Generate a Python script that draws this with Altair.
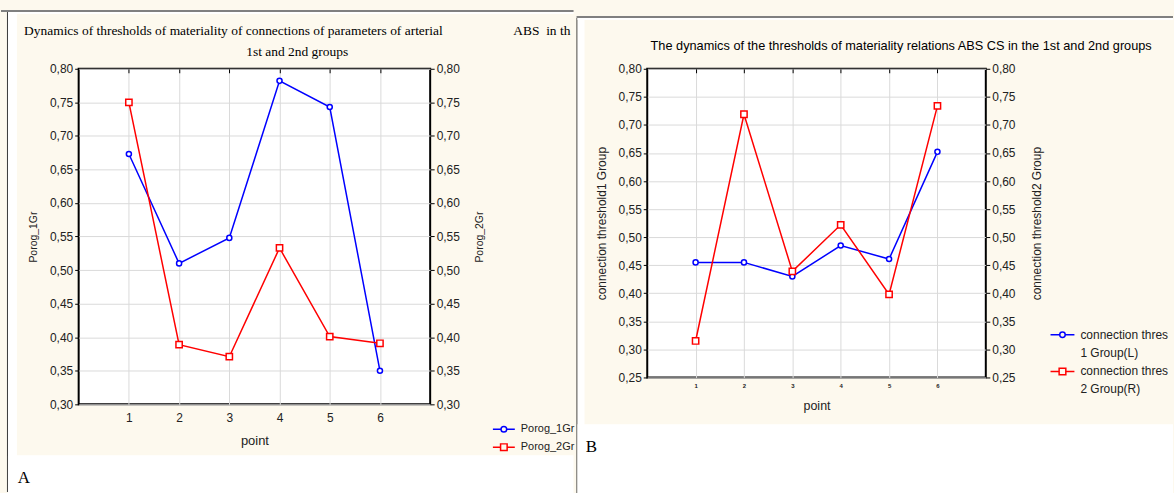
import altair as alt
import pandas as pd

# ---------------- data ----------------
points = [1, 2, 3, 4, 5, 6]

a_series = ["Porog_1Gr", "Porog_2Gr"]
a_group1 = [0.673, 0.510, 0.548, 0.782, 0.743, 0.350]
a_group2 = [0.750, 0.389, 0.371, 0.533, 0.401, 0.391]
a_ticks = [0.30, 0.35, 0.40, 0.45, 0.50, 0.55, 0.60, 0.65, 0.70, 0.75, 0.80]
a_title = [
    "Dynamics of thresholds of materiality of connections of parameters of arterial"
    + "\u00a0" * 21 + "ABS\u00a0\u00a0in\u00a0th",
    "1st and 2nd groups",
]
a_left_title = "Porog_1Gr"
a_right_title = "Porog_2Gr"

b_series = ["connection threshold 1 Group(L)", "connection threshold 2 Group(R)"]
b_legend_lines = [["connection thres", "1 Group(L)"], ["connection thres", "2 Group(R)"]]
b_group1 = [0.455, 0.455, 0.430, 0.485, 0.461, 0.652]
b_group2 = [0.315, 0.719, 0.439, 0.522, 0.398, 0.734]
b_ticks = [0.25, 0.30, 0.35, 0.40, 0.45, 0.50, 0.55, 0.60, 0.65, 0.70, 0.75, 0.80]
b_title = "The dynamics of the thresholds of materiality relations ABS CS in the 1st and 2nd groups"
b_left_title = "connection threshold1 Group"
b_right_title = "connection threshold2 Group"

x_title = "point"
panel_letters = ["A", "B"]

# ---------------- style ----------------
BLUE = "#0000ff"
RED = "#ff0000"
BEIGE = "#fdf9ee"
GRID = "#dadada"
SANS = "Liberation Sans"
SERIF = "Liberation Serif"
LABEL_EXPR = "replace(format(datum.value, '.2f'), '.', ',')"

one = pd.DataFrame({"k": [0]})


def rect(x1, y1, x2, y2, color, ox, oy):
    return alt.Chart(one).mark_rect(color=color).encode(
        x=alt.value(x1 - ox), x2=alt.value(x2 - ox),
        y=alt.value(y1 - oy), y2=alt.value(y2 - oy))


def letter(t, x, y, ox, oy):
    return alt.Chart(one).mark_text(
        text=t, font=SERIF, fontSize=17, color="black",
        align="center", baseline="middle").encode(
        x=alt.value(x - ox), y=alt.value(y - oy))


def sym_paths(r_c, r_s, dy):
    c = (f"M-1,{dy}L{-r_c},{dy}M{r_c},{dy}L1,{dy}"
         f"M{-r_c},{dy}A{r_c},{r_c},0,1,1,{r_c},{dy}A{r_c},{r_c},0,1,1,{-r_c},{dy}Z")
    s = (f"M-1,{dy}L{-r_s},{dy}M{r_s},{dy}L1,{dy}"
         f"M{-r_s},{dy - r_s}L{r_s},{dy - r_s}L{r_s},{dy + r_s}L{-r_s},{dy + r_s}Z")
    return [c, s]


def panel(cfg):
    ox, oy, W, H = cfg["ox"], cfg["oy"], cfg["W"], cfg["H"]
    series = cfg["series"]
    df1 = pd.DataFrame({"point": points, "value": cfg["g1"], "series": series[0]})
    df2 = pd.DataFrame({"point": points, "value": cfg["g2"], "series": series[1]})
    dfall = pd.concat([df1, df2], ignore_index=True)

    xscale = alt.Scale(domain=[0, 7], nice=False, zero=False)
    yscale = alt.Scale(domain=[cfg["ticks"][0], cfg["ticks"][-1]], nice=False, zero=False)

    left_axis = alt.Axis(
        orient="left", values=cfg["ticks"], labelExpr=LABEL_EXPR,
        grid=True, gridColor=GRID, gridWidth=1, domain=False,
        ticks=True, tickSize=4, tickColor="black", labelPadding=2,
        labelFont=SANS, labelFontSize=cfg["ylab_size"], labelColor="#222",
        title=cfg["left_title"], titleFont=SANS, titleFontSize=cfg["ytitle_size"],
        titleFontWeight="normal", titleColor="#222",
        titleX=cfg["ltitle_x"] - ox, titleY=H / 2, titleAngle=270,
        titleAlign="center", titleBaseline="middle")
    right_axis = alt.Axis(
        orient="right", values=cfg["ticks"], labelExpr=LABEL_EXPR,
        grid=False, domain=False,
        ticks=True, tickSize=4, tickColor="black", labelPadding=2,
        labelFont=SANS, labelFontSize=cfg["ylab_size"], labelColor="#222",
        title=cfg["right_title"], titleFont=SANS, titleFontSize=cfg["ytitle_size"],
        titleFontWeight="normal", titleColor="#222",
        titleX=cfg["rtitle_x"] - ox - W, titleY=H / 2, titleAngle=270,
        titleAlign="center", titleBaseline="middle")
    bottom_axis = alt.Axis(
        orient="bottom", values=points, format="d",
        grid=True, gridColor=GRID, gridWidth=1, domain=False,
        ticks=False, tickSize=0, labelPadding=cfg["xlab_pad"],
        labelFont=SANS, labelFontSize=cfg["xlab_size"], labelFontWeight=cfg["xlab_weight"],
        labelColor="#222",
        title=x_title, titleFont=SANS, titleFontSize=cfg["xtitle_size"],
        titleFontWeight="normal", titleColor="#222",
        titleX=W / 2, titleY=cfg["xtitle_y"] - oy - H,
        titleAlign="center", titleBaseline="middle")
    top_axis = alt.Axis(
        orient="top", values=points, labels=False, grid=False, domain=False,
        ticks=True, tickSize=4, tickColor="black", offset=-4, title=None)

    blue = alt.Chart(df1).mark_line(
        color=BLUE, strokeWidth=1.5,
        point=alt.OverlayMarkDef(shape="circle", filled=True, fill="white",
                                 stroke=BLUE, strokeWidth=1.5, size=26)
    ).encode(
        x=alt.X("point:Q", scale=xscale, axis=bottom_axis),
        y=alt.Y("value:Q", scale=yscale, axis=left_axis))

    red = alt.Chart(df2).mark_line(
        color=RED, strokeWidth=1.5,
        point=alt.OverlayMarkDef(shape="square", filled=True, fill="white",
                                 stroke=RED, strokeWidth=1.5, size=40)
    ).encode(
        x=alt.X("point:Q", scale=xscale, axis=top_axis),
        y=alt.Y("value:Q", scale=yscale, axis=right_axis))

    leg = alt.Legend(
        orient="none", legendX=cfg["leg_x"] - ox, legendY=cfg["leg_y"] - oy,
        title=None, padding=0, offset=0, symbolSize=cfg["sym_size"],
        symbolStrokeWidth=1.5, symbolOpacity=1, labelFont=SANS,
        labelFontSize=cfg["leg_size"], labelColor="#222", labelOffset=5,
        rowPadding=cfg["leg_rowpad"], labelLimit=400,
        labelExpr=cfg["leg_expr"])
    legend_layer = alt.Chart(dfall).mark_point(opacity=0, filled=False).encode(
        x=alt.X("point:Q", scale=xscale, axis=None),
        y=alt.value(0),
        color=alt.Color("series:N", scale=alt.Scale(domain=series, range=[BLUE, RED]), legend=leg),
        shape=alt.Shape("series:N", scale=alt.Scale(domain=series, range=cfg["paths"]), legend=leg))

    deco = [rect(*r, ox, oy) for r in cfg["rects"]]
    deco.append(letter(cfg["letter"], cfg["letter_x"], cfg["letter_y"], ox, oy))

    title = alt.TitleParams(
        text=cfg["title"], font=cfg["title_font"], fontSize=cfg["title_size"],
        fontWeight="normal", color="black", anchor="middle", frame="group",
        dx=cfg["title_dx"], offset=cfg["title_offset"], baseline="bottom",
        lineHeight=cfg["title_lh"])

    return alt.layer(*deco, blue, red, legend_layer).resolve_scale(
        y="independent").resolve_axis(x="independent", y="independent").properties(
        width=W, height=H, title=title)


a_cfg = dict(
    ox=78, oy=67, W=353, H=337, series=a_series, g1=a_group1, g2=a_group2, ticks=a_ticks,
    ylab_size=12, ytitle_size=10.5, left_title=a_left_title, right_title=a_right_title,
    ltitle_x=33, rtitle_x=481, xlab_pad=8, xlab_size=12, xlab_weight="normal",
    xtitle_size=13, xtitle_y=440,
    leg_x=493, leg_y=417, sym_size=484, leg_size=11, leg_rowpad=-4,
    leg_expr="datum.label",
    paths=sym_paths(0.26, 0.3, 0),
    rects=[
        (0, 0, 575, 8, BEIGE),
        (0, 8, 575, 10, "#808080"),
        (6, 10, 7, 492, "#333333"),
        (7, 10, 16, 493, "white"),
        (7, 10, 575, 12, "white"),
        (7, 455, 575, 493, "white"),
    ],
    letter="A", letter_x=23, letter_y=478,
    title=a_title, title_font=SERIF, title_size=13.5, title_dx=43,
    title_offset=-71, title_lh=21,
)

b_expr = (f"datum.value == '{b_series[0]}' ? ['{b_legend_lines[0][0]}', '{b_legend_lines[0][1]}']"
          f" : ['{b_legend_lines[1][0]}', '{b_legend_lines[1][1]}']")

b_cfg = dict(
    ox=646, oy=61, W=340, H=310, series=b_series, g1=b_group1, g2=b_group2, ticks=b_ticks,
    ylab_size=12, ytitle_size=12, left_title=b_left_title, right_title=b_right_title,
    ltitle_x=600, rtitle_x=1037, xlab_pad=5, xlab_size=6, xlab_weight="bold",
    xtitle_size=12.5, xtitle_y=399,
    leg_x=1050, leg_y=315, sym_size=576, leg_size=12, leg_rowpad=-2,
    leg_expr=b_expr,
    paths=sym_paths(0.23, 0.28, 0.0),
    rects=[
        (575, 0, 1174, 8, BEIGE),
        (575, 8, 1174, 10, "#808080"),
        (575, 10, 576, 492, "#111111"),
        (576, 10, 583, 493, "white"),
        (576, 10, 1174, 12, "white"),
        (576, 418, 1174, 493, "white"),
    ],
    letter="B", letter_x=590, letter_y=441,
    title=b_title, title_font=SANS, title_size=12.8, title_dx=85,
    title_offset=-58, title_lh=15,
)

chart = alt.hconcat(panel(a_cfg), panel(b_cfg), spacing=0).resolve_scale(
    x="independent", y="independent", color="independent", shape="independent"
).resolve_legend(color="independent", shape="independent").properties(
    background=BEIGE, padding=0
).configure(
    style={"guide-label": {"lineHeight": 18}}
).configure_view(stroke="black", strokeWidth=2, fill="white")

chart.save("out.html", embed_options={"renderer": "svg", "actions": False})
